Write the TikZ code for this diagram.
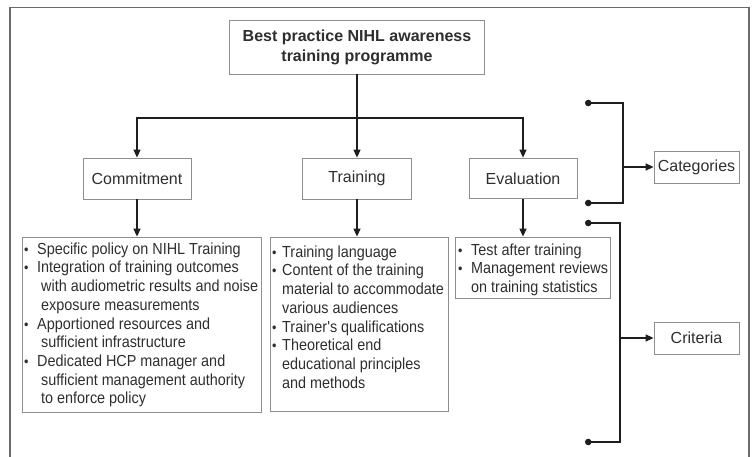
\documentclass[tikz,border=0pt]{standalone}
\usepackage{fontspec}
\setmainfont{Liberation Sans}
\newfontfamily\listfont{Liberation Sans}[FakeStretch=0.9]
\usetikzlibrary{arrows.meta}
\definecolor{boxc}{HTML}{8E8E8E}
\definecolor{txtc}{HTML}{2E2E2E}
\definecolor{linec}{HTML}{1E1E1E}
\definecolor{framec}{HTML}{6A6A6A}
\newcommand{\dotglyph}{{\fontsize{14}{14}\selectfont\raisebox{0pt}{•}}}
\newcommand{\bulw}[1]{\makebox[#1][l]{\hspace*{-1pt}\dotglyph}}
\begin{document}
\begin{tikzpicture}[x=1pt,y=-1pt,
  box/.style={draw=boxc, line width=0.8pt, text=txtc, inner sep=0pt,
    font=\fontsize{16}{20}\selectfont},
  listtext/.style={anchor=north west, inner sep=0pt, text=txtc, align=left,
    font=\listfont\fontsize{16}{18.7}\selectfont},
  conn/.style={draw=linec, line width=1.3pt},
  arr/.style={conn, -{Triangle[length=8pt,width=7pt]}},
  dotline/.style={conn, {Circle[length=6.5pt]}-{Circle[length=6.5pt]}}
]
\useasboundingbox (0,0) rectangle (755,457);
% frame
\draw[framec, line width=1.4pt] (10,457) -- (10,7.5) -- (749,7.5) -- (749,457);

% title
\node[box, minimum width=255pt, minimum height=54pt, align=center,
  font=\bfseries\fontsize{16}{20}\selectfont] (title) at (357,47)
  {Best practice NIHL awareness\\training programme};

% categories
\node[box, minimum width=108pt, minimum height=41pt] (commit) at (137,178.5) {Commitment};
\node[box, minimum width=109pt, minimum height=41pt] (train) at (357,178.5) {Training};
\node[box, minimum width=108pt, minimum height=40.5pt] (eval) at (523,178.3) {Evaluation};

% list boxes
\node[box, minimum width=239pt, minimum height=175pt] (clist) at (141.5,324.5) {};
\node[box, minimum width=178pt, minimum height=174pt] (tlist) at (359,324) {};
\node[box, minimum width=155pt, minimum height=61pt] (elist) at (532.5,267.5) {};

\node[listtext] (ctext) at (25,240) {\rule{0pt}{14pt}\bulw{12pt}Specific policy on NIHL Training\\
\bulw{12pt}Integration of training outcomes\\
\hspace*{16pt}with audiometric results and noise\\
\hspace*{16pt}exposure measurements\\
\bulw{12pt}Apportioned resources and\\
\hspace*{16pt}sufficient infrastructure\\
\bulw{12pt}Dedicated HCP manager and\\
\hspace*{16pt}sufficient management authority\\
\hspace*{16pt}to enforce policy};

\node[listtext] (ttext) at (273,243) {\rule{0pt}{14pt}\bulw{9pt}Training language\\
\bulw{9pt}Content of the training\\
\hspace*{9pt}material to accommodate\\
\hspace*{9pt}various audiences\\
\bulw{9pt}Trainer's qualifications\\
\bulw{9pt}Theoretical end\\
\hspace*{9pt}educational principles\\
\hspace*{9pt}and methods};

\node[listtext] (etext) at (459,241) {\rule{0pt}{14pt}\bulw{12pt}Test after training\\
\bulw{12pt}Management reviews\\
\hspace*{12pt}on training statistics};

% right side labels
\node[box, minimum width=85pt, minimum height=32pt] (cat) at (696.5,167) {Categories};
\node[box, minimum width=85pt, minimum height=32pt] (crit) at (696.5,338) {Criteria};

% tree connectors
\coordinate (hub) at (357,118);
\draw[conn] (title.south) -- (hub);
\draw[arr] (hub) -- (train.north);
\draw[arr] (hub) -| (commit.north);
\draw[arr] (hub) -| (eval.north);
\draw[arr] (commit.south) -- (commit.south |- clist.north);
\draw[arr] (train.south) -- (train.south |- tlist.north);
\draw[arr] (eval.south) -- (eval.south |- elist.north);

% brackets
\coordinate (ca1) at (585,103);
\coordinate (ca2) at (585,203);
\coordinate (cab) at (623,167);
\draw[dotline] (ca1) -- (623,103) -- (623,203) -- (ca2);
\draw[arr] (cab) -- (cat.west);

\coordinate (cr1) at (585,223);
\coordinate (cr2) at (585,442);
\coordinate (crb) at (620,338);
\draw[dotline] (cr1) -- (620,223) -- (620,442) -- (cr2);
\draw[arr] (crb) -- (crit.west);
\end{tikzpicture}
\end{document}
